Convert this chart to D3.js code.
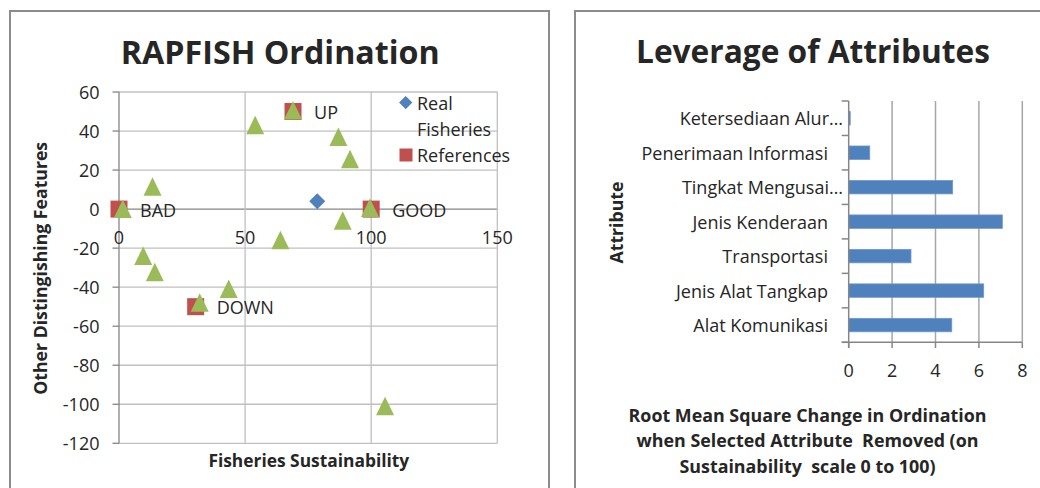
<!DOCTYPE html>
<html><head><meta charset="utf-8">
<script src="https://cdn.jsdelivr.net/npm/d3@7"></script>
<style>
body{margin:0;background:#fff}
svg{display:block}
text{font-family:"Open Sans",Lato,sans-serif;fill:#262626}
</style>
</head><body>
<svg id="c" width="1040" height="488"></svg>
<script>
// ---------- data ----------
const xTicksLeft = [0, 50, 100, 150];
const yTicksLeft = [-120, -100, -80, -60, -40, -20, 0, 20, 40, 60];
const anchorX = [1.5, 13.3, 54, 69, 87, 91.6, 99.5, 88.7, 64, 9.6, 14.2, 43.5, 32, 105.5];
const anchorY = [0, 11.5, 43, 50.5, 37, 25.5, 0.5, -6, -16, -24, -32.3, -41, -48, -101];
const refX = [0, 100, 69, 30.4];
const refY = [0, 0, 50, -50];
const refLabels = ["BAD", "GOOD", "UP", "DOWN"];
const realX = [78.6];
const realY = [4];
const legendLabels = [["Real", "Fisheries"], ["References"]];

const attributes = ["Ketersediaan Alur…", "Penerimaan Informasi", "Tingkat Mengusai…", "Jenis Kenderaan", "Transportasi", "Jenis Alat Tangkap", "Alat Komunikasi"];
const rmsValues = [0.07, 0.97, 4.79, 7.08, 2.87, 6.22, 4.75];
const xTicksRight = [0, 2, 4, 6, 8];
const xTitleRight = ["Root Mean Square Change in Ordination", "when Selected Attribute  Removed (on", "Sustainability  scale 0 to 100)"];

// ---------- helpers ----------
const svg = d3.select("#c");
const GRID = "#c0c0c0", AXIS = "#868686";
const FS = 18;
function fit(sel, w) {
  const len = sel.node().getComputedTextLength();
  const fs = parseFloat(sel.attr("font-size"));
  sel.attr("font-size", fs * w / len);
  return fs * w / len;
}

// frames
svg.append("rect").attr("x", 10).attr("y", 11).attr("width", 539).attr("height", 500)
  .attr("fill", "none").attr("stroke", "#8c8c8c").attr("stroke-width", 2);
svg.append("rect").attr("x", 575).attr("y", 11).attr("width", 500).attr("height", 500)
  .attr("fill", "none").attr("stroke", "#8c8c8c").attr("stroke-width", 2);

// ---------- left chart ----------
const L = svg.append("g");
const x = d3.scaleLinear().domain([0, 150]).range([119, 497.3]);
const y = d3.scaleLinear().domain([-120, 60]).range([443.3, 92]);

L.selectAll(".hg").data(yTicksLeft).join("line")
  .attr("x1", x(0)).attr("x2", x(150)).attr("y1", d => y(d)).attr("y2", d => y(d))
  .attr("stroke", d => d === 0 ? AXIS : GRID).attr("stroke-width", 1.3);
L.selectAll(".vg").data(xTicksLeft).join("line")
  .attr("x1", d => x(d)).attr("x2", d => x(d)).attr("y1", y(60)).attr("y2", y(-120))
  .attr("stroke", d => d === 0 ? AXIS : GRID).attr("stroke-width", 1.3);
L.selectAll(".yt").data(yTicksLeft).join("line")
  .attr("x1", x(0) - 6.5).attr("x2", x(0)).attr("y1", d => y(d)).attr("y2", d => y(d))
  .attr("stroke", AXIS).attr("stroke-width", 1.3);
L.selectAll(".yl").data(yTicksLeft).join("text")
  .attr("x", 99.5).attr("y", d => y(d) + 6.5).attr("text-anchor", "end")
  .attr("font-size", FS).text(d => d);
L.selectAll(".xl").data(xTicksLeft).join("text")
  .attr("x", d => x(d)).attr("y", y(0) + 35).attr("text-anchor", "middle")
  .attr("font-size", FS).text(d => d);

// references (squares)
L.selectAll(".ref").data(refX).join("rect")
  .attr("x", d => x(d) - 8.5).attr("y", (d, i) => y(refY[i]) - 8.5)
  .attr("width", 17).attr("height", 17).attr("fill", "#C0504D");
// real fisheries (diamond)
L.selectAll(".real").data(realX).join("path")
  .attr("d", (d, i) => `M${x(d)},${y(realY[i]) - 8}l8,8l-8,8l-8,-8z`)
  .attr("fill", "#4F81BD");
// anchors (triangles)
L.selectAll(".anc").data(anchorX).join("path")
  .attr("d", (d, i) => `M${x(d)},${y(anchorY[i]) - 9.5}l9,18.5h-18z`)
  .attr("fill", "#9BBB59");
// ref labels
L.selectAll(".rl").data(refLabels).join("text")
  .attr("x", (d, i) => x(refX[i]) + 21).attr("y", (d, i) => y(refY[i]) + 7.5)
  .attr("font-size", FS).text(d => d);

// legend
L.append("path").attr("d", "M405.7,96l6.6,6.6l-6.6,6.6l-6.6,-6.6z").attr("fill", "#4F81BD");
L.append("text").attr("x", 417).attr("y", 109.5).attr("font-size", FS).text(legendLabels[0][0]);
L.append("text").attr("x", 417).attr("y", 135.5).attr("font-size", FS).text(legendLabels[0][1]);
L.append("rect").attr("x", 399.5).attr("y", 148.5).attr("width", 13).attr("height", 13).attr("fill", "#C0504D");
L.append("text").attr("x", 417).attr("y", 161.5).attr("font-size", FS).text(legendLabels[1][0]);

// titles
fit(L.append("text").attr("x", 280.3).attr("y", 64).attr("text-anchor", "middle")
  .attr("font-weight", "bold").attr("font-size", 32).attr("fill", "#000").text("RAPFISH Ordination"), 319);
fit(L.append("text").attr("x", 308.8).attr("y", 467.3).attr("text-anchor", "middle")
  .attr("font-weight", "bold").attr("font-size", 16).attr("fill", "#111").text("Fisheries Sustainability"), 201);
fit(L.append("text").attr("transform", "translate(46.5,268.3) rotate(-90)").attr("text-anchor", "middle")
  .attr("font-weight", "bold").attr("font-size", 16).attr("fill", "#111").text("Other Distingishing Features"), 253);

// ---------- right chart ----------
const R = svg.append("g");
const xr = d3.scaleLinear().domain([0, 8]).range([848.7, 1022.3]);
const yr = d3.scaleBand().domain(attributes).range([101, 342.3]).paddingInner(0.61).paddingOuter(0.305);
const step = yr.step();
const bounds = d3.range(attributes.length + 1).map(i => 101 + i * step);

R.selectAll(".vg").data(xTicksRight.slice(1)).join("line")
  .attr("x1", d => xr(d)).attr("x2", d => xr(d)).attr("y1", 101).attr("y2", 342.3)
  .attr("stroke", "#a6a6a6").attr("stroke-width", 1.5);
R.selectAll(".bar").data(attributes).join("rect")
  .attr("x", xr(0)).attr("y", d => yr(d)).attr("height", yr.bandwidth())
  .attr("width", (d, i) => xr(rmsValues[i]) - xr(0))
  .attr("fill", "#4F81BD").attr("stroke", "#6f97cc").attr("stroke-width", 0.8);
R.append("line").attr("x1", xr(0)).attr("x2", xr(0)).attr("y1", 101).attr("y2", 348)
  .attr("stroke", AXIS).attr("stroke-width", 1.5);
R.append("line").attr("x1", xr(0) - 7).attr("x2", xr(8)).attr("y1", 342.3).attr("y2", 342.3)
  .attr("stroke", AXIS).attr("stroke-width", 1.5);
R.selectAll(".lt").data(bounds).join("line")
  .attr("x1", xr(0) - 7).attr("x2", xr(0)).attr("y1", d => d).attr("y2", d => d)
  .attr("stroke", AXIS).attr("stroke-width", 1.5);
R.selectAll(".bt").data(xTicksRight).join("line")
  .attr("x1", d => xr(d)).attr("x2", d => xr(d)).attr("y1", 342.3).attr("y2", 348)
  .attr("stroke", AXIS).attr("stroke-width", 1.5);
R.selectAll(".xl").data(xTicksRight).join("text")
  .attr("x", d => xr(d)).attr("y", 377).attr("text-anchor", "middle")
  .attr("font-size", FS).text(d => d);
R.selectAll(".cl").data(attributes).join("text")
  .attr("x", d => d.endsWith("…") ? 843 : 828)
  .attr("y", d => yr(d) + yr.bandwidth() / 2 + 7)
  .attr("text-anchor", "end").attr("font-size", FS).text(d => d);

fit(R.append("text").attr("x", 813).attr("y", 63.3).attr("text-anchor", "middle")
  .attr("font-weight", "bold").attr("font-size", 32).attr("fill", "#000").text("Leverage of Attributes"), 354);
fit(R.append("text").attr("transform", "translate(623.3,222.5) rotate(-90)").attr("text-anchor", "middle")
  .attr("font-weight", "bold").attr("font-size", 16).attr("fill", "#111").text("Attribute"), 82);
const t1 = R.append("text").attr("x", 807.5).attr("y", 421.7).attr("text-anchor", "middle")
  .attr("font-weight", "bold").attr("font-size", 16).attr("fill", "#111").text(xTitleRight[0]);
const fsT = fit(t1, 358);
[446.7, 473.3].forEach((yy, i) => {
  R.append("text").attr("x", 807.5).attr("y", yy).attr("text-anchor", "middle")
    .attr("font-weight", "bold").attr("font-size", fsT).attr("fill", "#111")
    .style("white-space", "pre").text(xTitleRight[i + 1]);
});
</script>
</body></html>
